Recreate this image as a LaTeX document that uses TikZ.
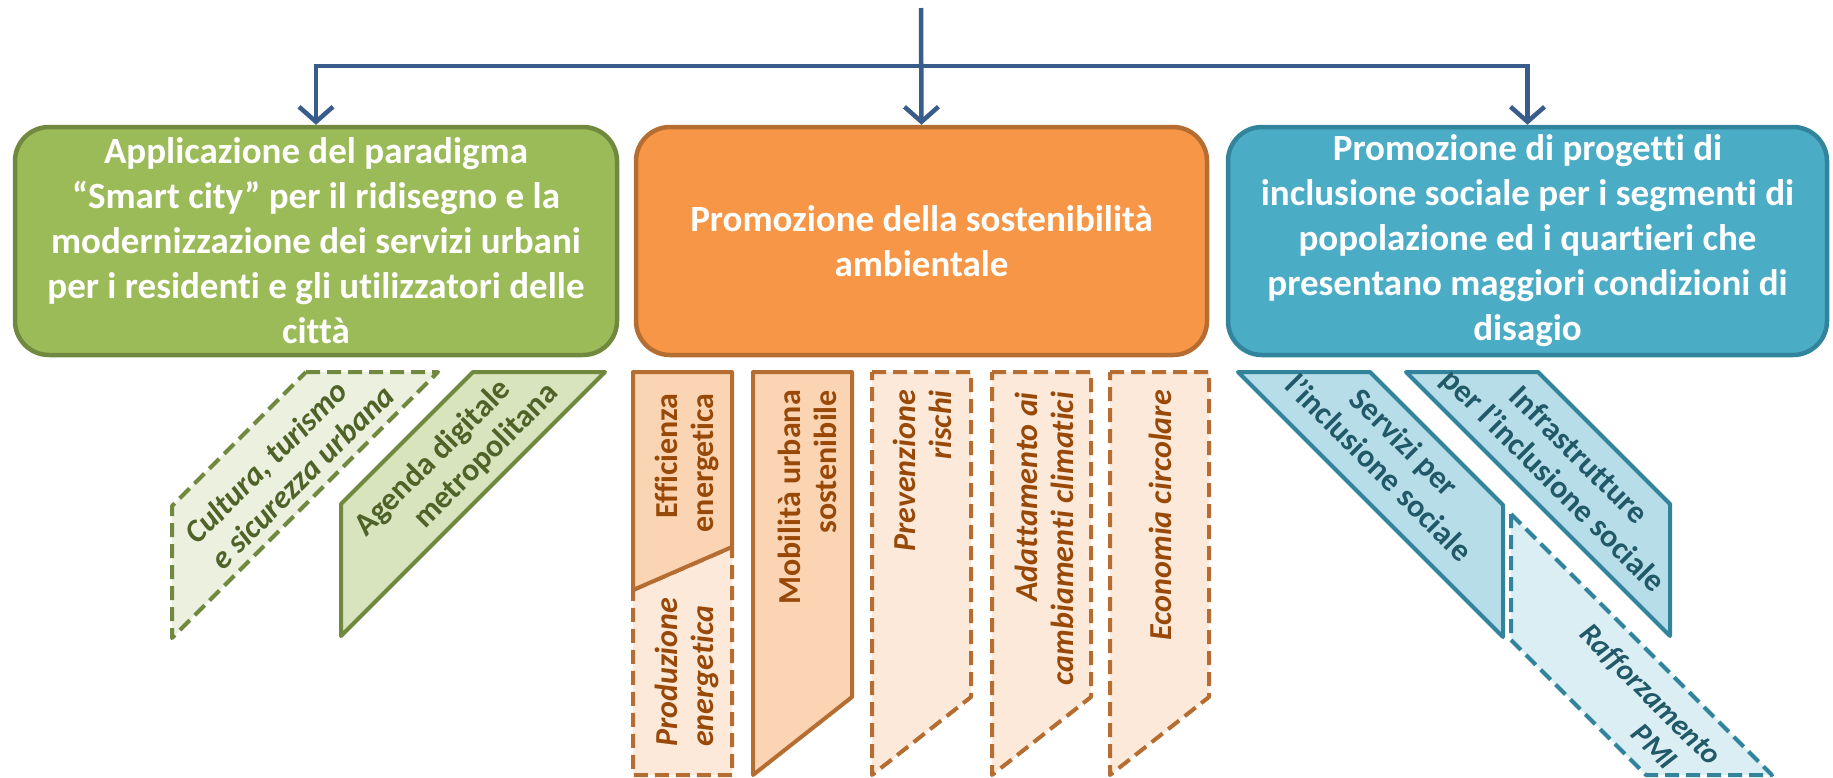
\documentclass[tikz,border=0pt]{standalone}
\usepackage{fontspec}
\setmainfont{Carlito}[Ligatures=NoCommon]
\usetikzlibrary{arrows.meta}
\definecolor{arrowblue}{HTML}{385D8A}
\definecolor{gfill}{HTML}{9BBB59}
\definecolor{gline}{HTML}{71893F}
\definecolor{gsolid}{HTML}{D7E4BD}
\definecolor{gdash}{HTML}{EBF1DE}
\definecolor{gtext}{HTML}{4F6228}
\definecolor{ofill}{HTML}{F79646}
\definecolor{oline}{HTML}{B66D31}
\definecolor{osolid}{HTML}{FBD4B4}
\definecolor{odash}{HTML}{FDE9D9}
\definecolor{otext}{HTML}{984807}
\definecolor{bfill}{HTML}{4BACC6}
\definecolor{bline}{HTML}{31849B}
\definecolor{bsolid}{HTML}{B7DEE8}
\definecolor{bdash}{HTML}{DAEEF3}
\definecolor{btext}{HTML}{215968}
\begin{document}
\begin{tikzpicture}[x=1pt,y=-1pt,
  titlebox/.style={draw, rounded corners=34pt, line width=4.5pt, text=white,
    font=\fontsize{37}{45}\selectfont\bfseries, align=center, inner sep=0pt,
    minimum height=228pt},
  conn/.style={draw=arrowblue, line width=4.5pt, -{Straight Barb[length=15pt,width=34pt]}},
  solidpart/.style={line width=4pt, line join=round},
  dashpart/.style={line width=4pt, line join=round, dash pattern=on 14pt off 7pt},
  lbl/.style={inner sep=0pt, font=\fontsize{32}{36}\selectfont\bfseries},
  ilbl/.style={inner sep=0pt, font=\fontsize{32}{36}\selectfont\bfseries\itshape},
  slbl/.style={inner sep=0pt, font=\fontsize{30}{34}\selectfont\bfseries\itshape}
]
\useasboundingbox (0,0) rectangle (1833,777);

% title boxes
\node[titlebox, fill=gfill, draw=gline, minimum width=602pt] (green) at (316,241)
  {Applicazione del paradigma\\“Smart city” per il ridisegno e la\\modernizzazione dei servizi urbani\\per i residenti e gli utilizzatori delle\\città};
\node[titlebox, fill=ofill, draw=oline, minimum width=571pt] (orange) at (921.5,241)
  {Promozione della sostenibilità\\ambientale};
\node[titlebox, fill=bfill, draw=bline, minimum width=599pt] (blue) at (1527.5,241)
  {Promozione di progetti di\\inclusione sociale per i segmenti di\\popolazione ed i quartieri che\\presentano maggiori condizioni di\\disagio};

% connectors
\coordinate (top) at (921,8);
\coordinate (hub) at (921,66);
\draw[conn] (hub) -| (green.north);
\draw[conn] (hub) -| (blue.north);
\draw[conn] (top) -- (orange.north);

% green sub-shapes
\draw[dashpart, draw=gline, fill=gdash] (306,372) -- (438,372) -- (172,638) -- (172,506) -- cycle;
\draw[solidpart, draw=gline, fill=gsolid] (473,372) -- (605,372) -- (341,636) -- (341,504) -- cycle;
\node[ilbl, text=gtext, rotate=45, align=left] (cultura) at (289,464) {Cultura, turismo\\e sicurezza urbana};
\node[lbl, text=gtext, rotate=45, align=left] (agenda) at (457,460) {Agenda digitale\\\hspace*{47pt}metropolitana};

% orange sub-shapes
\draw[dashpart, draw=oline, fill=odash] (633,590) -- (732,547) -- (732,775) -- (633,775) -- cycle;
\draw[solidpart, draw=oline, fill=osolid] (633,372) -- (732,372) -- (732,547) -- (633,590) -- cycle;
\draw[solidpart, draw=oline, fill=osolid] (753,372) -- (852,372) -- (852,697) -- (753,775) -- cycle;
\draw[dashpart, draw=oline, fill=odash] (872,372) -- (971,372) -- (971,697) -- (872,775) -- cycle;
\draw[dashpart, draw=oline, fill=odash] (992,372) -- (1091,372) -- (1091,697) -- (992,775) -- cycle;
\draw[dashpart, draw=oline, fill=odash] (1110,372) -- (1209,372) -- (1209,697) -- (1110,775) -- cycle;
\node[lbl, text=otext, rotate=90, anchor=east, align=right] (effic) at (687,393) {Efficienza\\energetica};
\node[ilbl, text=otext, rotate=90, anchor=west, align=left] (prod) at (687,747) {Produzione\\energetica};
\node[lbl, text=otext, rotate=90, anchor=east, align=right] (mob) at (807,390) {Mobilità urbana\\sostenibile};
\node[ilbl, text=otext, rotate=90, anchor=east, align=right] (prev) at (922,390) {Prevenzione\\rischi};
\node[ilbl, text=otext, rotate=90, anchor=east, align=right] (adatt) at (1044,392) {Adattamento ai\\cambiamenti climatici};
\node[ilbl, text=otext, rotate=90, anchor=east, align=right] (econ) at (1160,390) {Economia circolare};

% blue sub-shapes
\draw[solidpart, draw=bline, fill=bsolid] (1238,372) -- (1370,372) -- (1503,505) -- (1503,637) -- cycle;
\draw[solidpart, draw=bline, fill=bsolid] (1406,372) -- (1538,372) -- (1670,504) -- (1670,636) -- cycle;
\draw[dashpart, draw=bline, fill=bdash] (1511,514) -- (1772,775) -- (1646,775) -- (1511,640) -- cycle;
\node[lbl, text=btext, rotate=-45, align=center] (serv) at (1392,455) {Servizi per\\l’inclusione sociale};
\node[lbl, text=btext, rotate=-45, align=center] (infra) at (1565,469) {Infrastrutture\\per l’inclusione sociale};
\node[slbl, text=btext, rotate=-45, align=right] (raff) at (1639,706) {Rafforzamento\\PMI\hspace*{28pt}};
\end{tikzpicture}
\end{document}
